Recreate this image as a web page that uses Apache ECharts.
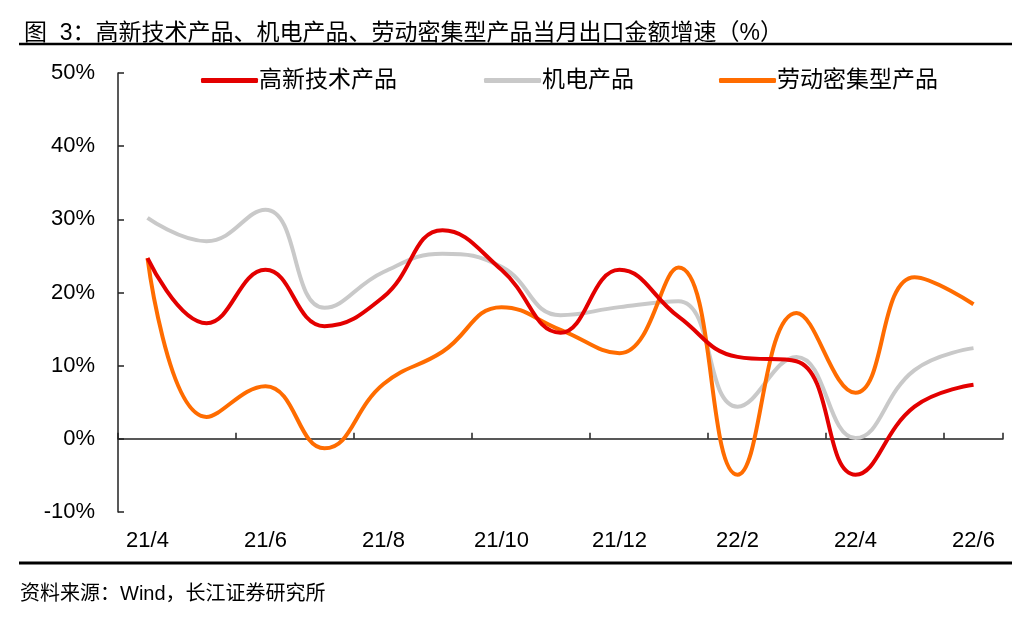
<!DOCTYPE html>
<html>
<head>
<meta charset="utf-8">
<script src="https://cdn.jsdelivr.net/npm/echarts@6/dist/echarts.min.js"></script>
<style>
html,body{margin:0;padding:0;background:#fff;}
#c{width:1031px;height:622px;}
</style>
</head>
<body>
<div id="c"></div>
<script>
const months = ['21/4','21/5','21/6','21/7','21/8','21/9','21/10','21/11','21/12','22/1','22/2','22/3','22/4','22/5','22/6'];
const hiTech = [24.7,15.8,23.1,15.4,19.4,28.5,23.1,14.5,23.1,16.7,11.2,10.6,-4.9,4.4,7.4];
const mechElec = [30.2,27.0,31.3,17.9,22.8,25.3,23.5,16.9,18.0,18.8,4.4,11.2,0.1,9.4,12.4];
const labor = [24.7,3.0,7.2,-1.3,7.5,11.9,18.0,14.9,11.7,23.4,-4.9,17.2,6.3,22.1,18.4];
const seriesNames = ['高新技术产品','机电产品','劳动密集型产品'];
const yTicks = {min:-10, max:50, interval:10};

const FONT = 'Liberation Sans, Arial, "Noto Sans CJK SC", sans-serif';
const colors = ['#E30000','#C9C9C9','#FF6C00'];
const chart = echarts.init(document.getElementById('c'), null, {renderer:'canvas'});

const legendLefts = [196, 479, 714];
const option = {
  backgroundColor:'#fff',
  animation:false,
  title:{
    text:'图  3：高新技术产品、机电产品、劳动密集型产品当月出口金额增速（%）',
    left:19, top:17,
    textStyle:{fontFamily:FONT, fontSize:23, fontWeight:'normal', color:'#000'}
  },
  graphic:[
    {type:'line', shape:{x1:19,y1:44,x2:1012,y2:44}, style:{stroke:'#000', lineWidth:2.5}},
    {type:'line', shape:{x1:19,y1:563,x2:1012,y2:563}, style:{stroke:'#000', lineWidth:3}},
    {type:'text', left:20, top:584, style:{text:'资料来源：Wind，长江证券研究所', font:'20px ' + FONT, fill:'#000'}}
  ],
  legend: seriesNames.map((n,i)=>({
    data:[n], left:legendLefts[i], top:64,
    icon:'roundRect', itemWidth:57, itemHeight:5, itemGap:4,
    textStyle:{fontFamily:FONT, fontSize:23, color:'#000', padding:[0,0,0,-4]}
  })),
  grid:{left:118, right:28, top:73, bottom:110},
  xAxis:[
    {type:'category', data:months, boundaryGap:true,
     axisLine:{onZero:true, lineStyle:{color:'#222', width:1.5}},
     axisTick:{show:true, inside:true, interval:1, length:6, lineStyle:{color:'#222', width:1.5}},
     axisLabel:{show:false}, splitLine:{show:false}},
    {type:'category', data:months, boundaryGap:true, position:'bottom',
     axisLine:{show:false, onZero:false}, axisTick:{show:false},
     axisLabel:{interval:1, fontFamily:FONT, fontSize:22, color:'#000', margin:18},
     splitLine:{show:false}}
  ],
  yAxis:{
    type:'value', min:yTicks.min, max:yTicks.max, interval:yTicks.interval,
    axisLine:{show:true, lineStyle:{color:'#222', width:1.5}},
    axisTick:{show:true, inside:true, length:6, lineStyle:{color:'#222', width:1.5}},
    axisLabel:{formatter:'{value}%', fontFamily:FONT, fontSize:22, color:'#000', margin:23},
    splitLine:{show:false}
  },
  series:[hiTech, mechElec, labor].map((d,i)=>({
    name:seriesNames[i], type:'line', data:d, xAxisIndex:0,
    smooth:0.45, symbol:'none',
    lineStyle:{color:colors[i], width:4},
    itemStyle:{color:colors[i]},
    z: i===1 ? 1 : (i===0 ? 3 : 2)
  }))
};
chart.setOption(option);
</script>
</body>
</html>
